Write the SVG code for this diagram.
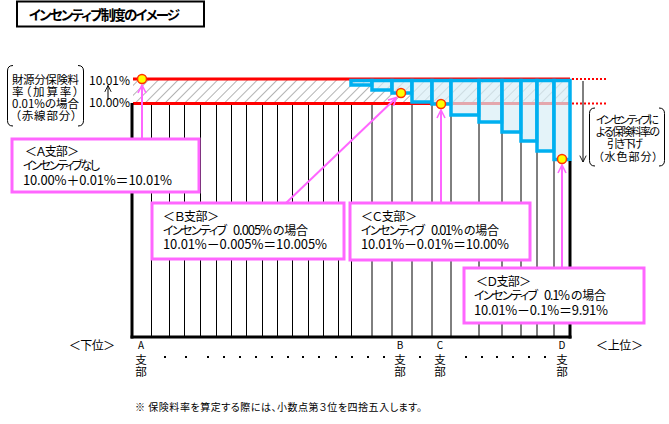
<svg xmlns="http://www.w3.org/2000/svg" width="669" height="424" viewBox="0 0 669 424">
<defs>
<style>
text{font-family:"Noto Sans CJK JP","Noto Sans",sans-serif;fill:#000;font-feature-settings:"palt" 1;}
.t12{font-size:12px;}
.t13{font-size:13px;}
.n{font-size:13px;}
.t11{font-size:11.5px;}
.r11{font-size:11px;}
.t10{font-size:10px;}
.callout{fill:#fff;stroke:#ff66ff;stroke-width:3;}
.pink{stroke:#ff66ff;stroke-width:2;fill:none;}
.grid{stroke:#000;stroke-width:1;}
.col{fill:#d9eef7;fill-opacity:0.7;stroke:#00b0f0;stroke-width:3.5;stroke-linejoin:miter;}
.dot{fill:#ffff00;stroke:#ff3300;stroke-width:1.5;}
.brk{fill:none;stroke:#000;stroke-width:1;}
</style>
<pattern id="hatch" patternUnits="userSpaceOnUse" width="7" height="7" patternTransform="rotate(45)">
<line x1="0" y1="0" x2="0" y2="7" stroke="#b3b3b3" stroke-width="2"/>
</pattern>
<marker id="pa" viewBox="0 0 10 10" refX="9" refY="5" markerWidth="5" markerHeight="5" orient="auto" markerUnits="strokeWidth">
<path d="M1,1 L9,5 L1,9" fill="none" stroke="#ff66ff" stroke-width="1.6"/>
</marker>
<marker id="ba" viewBox="0 0 10 10" refX="9" refY="5" markerWidth="8" markerHeight="8" orient="auto" markerUnits="strokeWidth">
<path d="M1,1 L9,5 L1,9" fill="none" stroke="#000" stroke-width="1.1"/>
</marker>
</defs>
<rect width="669" height="424" fill="#fff"/>

<g id="title">
<rect x="17" y="1.5" width="187" height="25" fill="#fff" stroke="#000" stroke-width="2"/>
<text x="29" y="20" font-size="13.5" font-weight="bold" textLength="151">インセンティブ制度のイメージ</text>
</g>

<g id="chart">
<rect x="133" y="79" width="437" height="24.5" fill="url(#hatch)"/>
<g class="grid">
<line x1="151.5" y1="104" x2="151.5" y2="337"/>
<line x1="169.5" y1="104" x2="169.5" y2="337"/>
<line x1="184.5" y1="104" x2="184.5" y2="337"/>
<line x1="200.5" y1="104" x2="200.5" y2="337"/>
<line x1="216.5" y1="104" x2="216.5" y2="337"/>
<line x1="231.5" y1="104" x2="231.5" y2="337"/>
<line x1="246.5" y1="104" x2="246.5" y2="337"/>
<line x1="262.5" y1="104" x2="262.5" y2="337"/>
<line x1="277.5" y1="104" x2="277.5" y2="337"/>
<line x1="292.5" y1="104" x2="292.5" y2="337"/>
<line x1="308.5" y1="104" x2="308.5" y2="337"/>
<line x1="323.5" y1="104" x2="323.5" y2="337"/>
<line x1="338.5" y1="104" x2="338.5" y2="337"/>
<line x1="351.5" y1="104" x2="351.5" y2="337"/>
<line x1="372" y1="104" x2="372" y2="337"/>
<line x1="392" y1="104" x2="392" y2="337"/>
<line x1="412" y1="104" x2="412" y2="337"/>
<line x1="432" y1="104" x2="432" y2="337"/>
<line x1="451" y1="104" x2="451" y2="337"/>
<line x1="479" y1="104" x2="479" y2="337"/>
<line x1="502" y1="104" x2="502" y2="337"/>
<line x1="521" y1="104" x2="521" y2="337"/>
<line x1="537" y1="104" x2="537" y2="337"/>
<line x1="554" y1="104" x2="554" y2="337"/>
</g>
<line x1="133" y1="79" x2="570" y2="79" stroke="#ff0000" stroke-width="3"/>
<line x1="133" y1="103.5" x2="570" y2="103.5" stroke="#ff0000" stroke-width="3"/>
<g id="columns">
<rect class="col" x="351" y="80.5" width="21" height="4.5"/>
<rect class="col" x="372" y="80.5" width="20" height="9.5"/>
<rect class="col" x="392" y="80.5" width="20" height="12.5"/>
<rect class="col" x="412" y="80.5" width="20" height="21.5"/>
<rect class="col" x="432" y="80.5" width="19" height="23.5"/>
<rect class="col" x="451" y="80.5" width="28" height="34.5"/>
<rect class="col" x="479" y="80.5" width="23" height="41.5"/>
<rect class="col" x="502" y="80.5" width="19" height="51.5"/>
<rect class="col" x="521" y="80.5" width="16" height="60.5"/>
<rect class="col" x="537" y="80.5" width="17" height="70.5"/>
<rect class="col" x="554" y="80.5" width="16" height="79"/>
</g>
<line x1="132" y1="103" x2="132" y2="338.5" stroke="#000" stroke-width="3"/>
<line x1="130.5" y1="337" x2="571.5" y2="337" stroke="#000" stroke-width="3"/>
<line x1="570" y1="161" x2="570" y2="338.5" stroke="#000" stroke-width="3"/>
<line x1="572" y1="79" x2="607" y2="79" stroke="#ff0000" stroke-width="2" stroke-dasharray="2,2"/>
<line x1="572" y1="103.5" x2="607" y2="103.5" stroke="#ff0000" stroke-width="2" stroke-dasharray="2,2"/>
</g>

<g id="left-label">
<path class="brk" d="M13,65.5 Q7.5,65.5 7.5,71 L7.5,120.5 Q7.5,126 13,126"/>
<path class="brk" d="M78,65.5 Q83.5,65.5 83.5,71 L83.5,120.5 Q83.5,126 78,126"/>
<text class="t11" x="45.5" y="84" text-anchor="middle" textLength="67">財源分保険料</text>
<text class="t11" x="45.5" y="96" text-anchor="middle" textLength="67">率（加算率）</text>
<text class="t11" x="45.5" y="108" text-anchor="middle" textLength="67">0.01%の場合</text>
<text class="t11" x="46" y="120" text-anchor="middle" textLength="62">（赤線部分）</text>
<text class="t12" x="130" y="85" text-anchor="end" textLength="41">10.01%</text>
<text class="t12" x="130" y="107" text-anchor="end" textLength="41">10.00%</text>
<line x1="108" y1="100" x2="108" y2="85.5" stroke="#000" stroke-width="1" marker-end="url(#ba)"/>
</g>

<g id="right-label">
<path class="brk" d="M595,108 Q589.5,108 589.5,113.5 L589.5,160.5 Q589.5,166 595,166"/>
<path class="brk" d="M659,108 Q664.5,108 664.5,113.5 L664.5,160.5 Q664.5,166 659,166"/>
<text class="r11" x="627.5" y="124" text-anchor="middle" textLength="63">インセンティブに</text>
<text class="r11" x="628" y="136" text-anchor="middle" textLength="64">よる保険料率の</text>
<text class="r11" x="625" y="148" text-anchor="middle" textLength="36">引き下げ</text>
<text class="r11" x="628" y="160.5" text-anchor="middle" textLength="60">（水色部分）</text>
<line x1="583" y1="81" x2="583" y2="162" stroke="#000" stroke-width="1" marker-end="url(#ba)"/>
</g>

<g id="connectors">
<line class="pink" x1="142" y1="139" x2="142" y2="85" marker-end="url(#pa)"/>
<line class="pink" x1="286" y1="203" x2="396.5" y2="97.5" marker-end="url(#pa)"/>
<line class="pink" x1="441" y1="203" x2="441" y2="110" marker-end="url(#pa)"/>
<line class="pink" x1="562" y1="268" x2="562" y2="165" marker-end="url(#pa)"/>
</g>

<g id="points">
<circle class="dot" cx="142" cy="79" r="4.5"/>
<circle class="dot" cx="401" cy="93" r="4.5"/>
<circle class="dot" cx="441" cy="104" r="4.5"/>
<circle class="dot" cx="562" cy="159" r="4.5"/>
</g>

<g id="callout-a">
<rect class="callout" x="12" y="139" width="187" height="53"/>
<text class="t12" x="25" y="155.5" textLength="54">＜Ａ支部＞</text>
<text class="t12" x="23" y="169.5" textLength="77">インセンティブなし</text>
<text class="t13" x="23" y="184.5" textLength="149">10.00%＋0.01%＝10.01%</text>
</g>

<g id="callout-b">
<rect class="callout" x="152" y="203" width="192" height="56"/>
<text class="t12" x="163" y="221" textLength="56">＜Ｂ支部＞</text>
<text class="t12" y="235"><tspan x="163" textLength="64">インセンティブ</tspan><tspan class="n" x="233" textLength="39">0.005%</tspan><tspan x="273" textLength="35">の場合</tspan></text>
<text class="t13" x="163" y="249" textLength="164">10.01%－0.005%＝10.005%</text>
</g>

<g id="callout-c">
<rect class="callout" x="350" y="203" width="180" height="57"/>
<text class="t12" x="361" y="221" textLength="56">＜Ｃ支部＞</text>
<text class="t12" y="235"><tspan x="361" textLength="64">インセンティブ</tspan><tspan class="n" x="431" textLength="32">0.01%</tspan><tspan x="464" textLength="35">の場合</tspan></text>
<text class="t13" x="361" y="249" textLength="148">10.01%－0.01%＝10.00%</text>
</g>

<g id="callout-d">
<rect class="callout" x="464" y="268" width="180" height="55"/>
<text class="t12" x="476" y="286" textLength="55">＜Ｄ支部＞</text>
<text class="t12" y="300"><tspan x="474" textLength="64">インセンティブ</tspan><tspan class="n" x="544" textLength="26">0.1%</tspan><tspan x="571" textLength="35">の場合</tspan></text>
<text class="t13" x="474" y="314.5" textLength="134">10.01%－0.1%＝9.91%</text>
</g>

<g id="axis-labels">
<text class="t12" x="92" y="350" text-anchor="middle" textLength="46">＜下位＞</text>
<text class="t12" x="619.5" y="350" text-anchor="middle" textLength="47">＜上位＞</text>
<g text-anchor="middle">
<text class="t10" x="141" y="349">A</text>
<text class="t11" x="141" y="363.5">支</text>
<text class="t11" x="141" y="376">部</text>
<text class="t10" x="400" y="349">B</text>
<text class="t11" x="400" y="363.5">支</text>
<text class="t11" x="400" y="376">部</text>
<text class="t10" x="440" y="349">C</text>
<text class="t11" x="440" y="363.5">支</text>
<text class="t11" x="440" y="376">部</text>
<text class="t10" x="562" y="349">D</text>
<text class="t11" x="562" y="363.5">支</text>
<text class="t11" x="562" y="376">部</text>
</g>
<g fill="#000">
<rect x="164" y="356" width="2" height="2"/>
<rect x="185" y="356" width="2" height="2"/>
<rect x="207" y="356" width="2" height="2"/>
<rect x="223" y="356" width="2" height="2"/>
<rect x="239" y="356" width="2" height="2"/>
<rect x="255" y="356" width="2" height="2"/>
<rect x="271" y="356" width="2" height="2"/>
<rect x="287" y="356" width="2" height="2"/>
<rect x="302" y="356" width="2" height="2"/>
<rect x="318" y="356" width="2" height="2"/>
<rect x="335" y="356" width="2" height="2"/>
<rect x="351" y="356" width="2" height="2"/>
<rect x="367" y="356" width="2" height="2"/>
<rect x="383" y="356" width="2" height="2"/>
<rect x="419" y="356" width="2" height="2"/>
<rect x="465" y="356" width="2" height="2"/>
<rect x="481" y="356" width="2" height="2"/>
<rect x="496" y="356" width="2" height="2"/>
<rect x="512" y="356" width="2" height="2"/>
<rect x="528" y="356" width="2" height="2"/>
<rect x="544" y="356" width="2" height="2"/>
</g>
<text class="t10" x="135" y="411" textLength="287">※ 保険料率を算定する際には、小数点第３位を四捨五入します。</text>
</g>
</svg>
